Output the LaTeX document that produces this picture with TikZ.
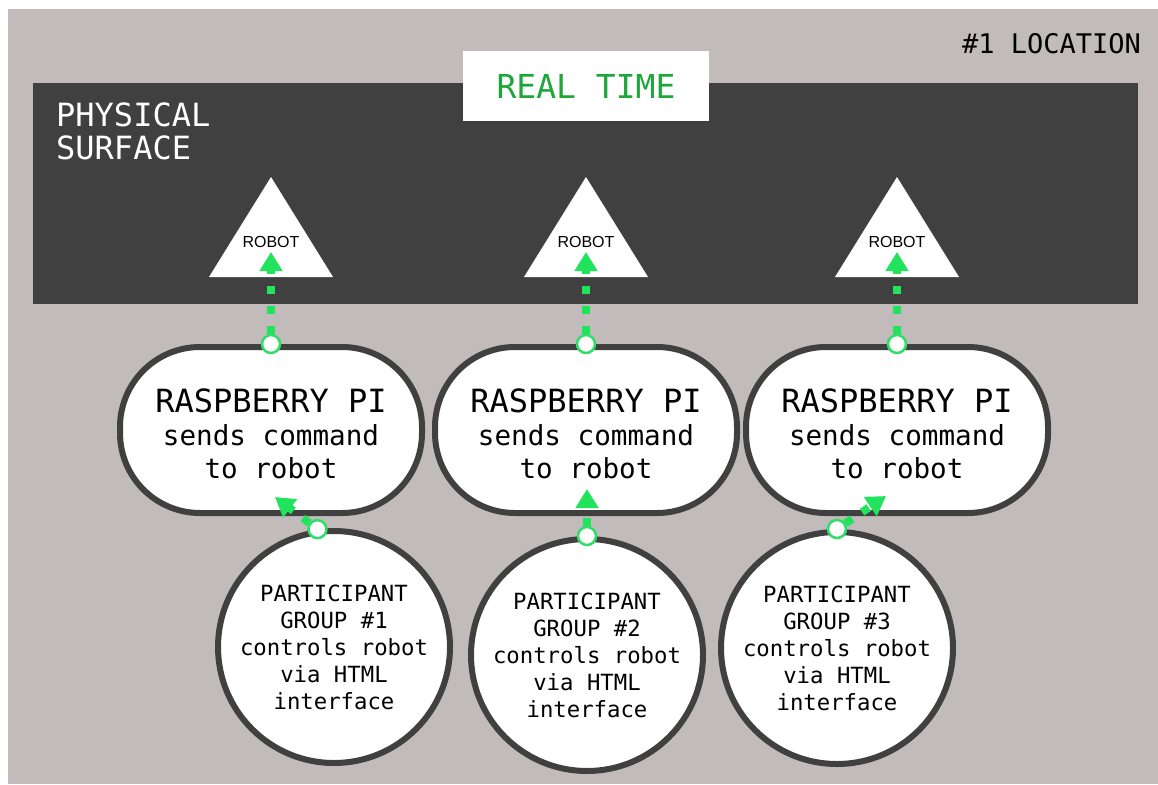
\documentclass[tikz,border=0pt]{standalone}
\usepackage{fontspec}
\setmainfont{DejaVu Sans Mono}
\newfontfamily\robotfont{Liberation Sans}
\usetikzlibrary{arrows.meta}
\definecolor{bggray}{RGB}{194,187,187}
\definecolor{surfgray}{RGB}{64,64,64}
\definecolor{flowgreen}{RGB}{34,228,92}
\definecolor{portgreen}{RGB}{46,222,104}
\definecolor{textgreen}{RGB}{30,166,58}
\tikzset{
  pibox/.style={draw=surfgray, line width=6pt, fill=white, rounded corners=80pt,
    minimum width=302pt, minimum height=166pt, align=center, font=\fontsize{27.6}{33}\selectfont},
  groupcirc/.style={circle, draw=surfgray, line width=6pt, fill=white, minimum size=232pt,
    inner sep=0pt, align=center, font=\fontsize{22.3}{27}\selectfont},
  port/.style={circle, draw=portgreen, line width=2.5pt, fill=white, minimum size=18pt, inner sep=0pt},
  flow/.style={draw=flowgreen, line width=8pt, dash pattern=on 8pt off 12pt,
    -{Triangle[width=22pt,length=19pt]}},
  robotlabel/.style={font=\robotfont\fontsize{16}{16}\selectfont, inner sep=0pt}
}
\begin{document}
\begin{tikzpicture}[x=1pt,y=-1pt]
  \useasboundingbox (0,0) rectangle (1158,784);
  \fill[bggray] (8,9) rectangle (1158,784);
  \fill[surfgray] (33,83) rectangle (1138,304);
  \node[fill=white, minimum width=246pt, minimum height=70pt, text=textgreen,
    font=\fontsize{33}{33}\selectfont] (realtime) at (586,86) {REAL TIME};
  \node[anchor=north west, inner sep=0pt, align=left, text=white,
    font=\fontsize{32}{33}\selectfont] (surface) at (56,103) {PHYSICAL\\SURFACE};
  \node[anchor=base east, inner sep=0pt, font=\fontsize{27}{27}\selectfont] (location) at (1141,53) {\#1 LOCATION};
  \foreach \i/\x in {1/271,2/586,3/897} {
    \fill[white] (\x,177) -- (\x+62,277) -- (\x-62,277) -- cycle;
    \node[robotlabel] (robot\i) at (\x,242) {ROBOT};
    \coordinate (tip\i) at (\x,252);
    \node[pibox] (rpi\i) at (\x,430) {\rule{0pt}{31pt}{\fontsize{32}{33}\selectfont RASPBERRY PI}\\sends command\\to robot};
    \node[port] (top\i) at (rpi\i.north) {};
    \draw[flow] (top\i) -- (tip\i);
  }
  \foreach \i/\x/\y/\a/\tx/\ty in {1/334/647/98/275/497,2/587/655/90/587/489,3/837/648/90/886/496} {
    \node[groupcirc] (group\i) at (\x,\y) {PARTICIPANT\\GROUP \#\i\\controls robot\\via HTML\\interface};
    \coordinate (gtip\i) at (\tx,\ty);
    \node[port] (gport\i) at (group\i.\a) {};
    \draw[flow] (gport\i) -- (gtip\i);
  }
\end{tikzpicture}
\end{document}
